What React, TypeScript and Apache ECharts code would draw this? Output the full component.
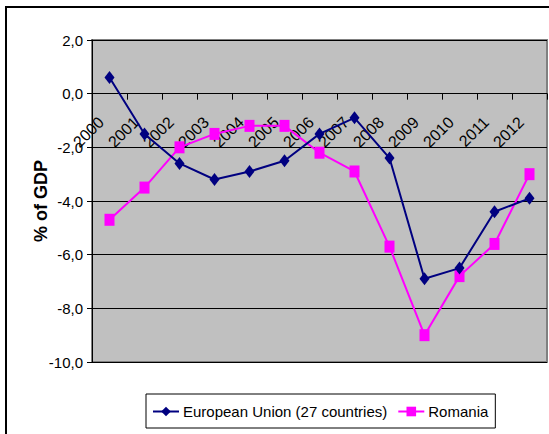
import React, { useEffect, useRef } from "react";
import * as echarts from "echarts";

const years = ["2000", "2001", "2002", "2003", "2004", "2005", "2006", "2007", "2008", "2009", "2010", "2011", "2012"];
const euValues = [0.6, -1.5, -2.6, -3.2, -2.9, -2.5, -1.5, -0.9, -2.4, -6.9, -6.5, -4.4, -3.9];
const roValues = [-4.7, -3.5, -2.0, -1.5, -1.2, -1.2, -2.2, -2.9, -5.7, -9.0, -6.8, -5.6, -3.0];
const seriesNames = ["European Union (27 countries)", "Romania"];
const yTicks = { min: -10, max: 2, interval: 2 };
const yTitle = "% of GDP";

const FONT = "'Liberation Sans', Arial, sans-serif";

export default function App() {
  const ref = useRef<HTMLDivElement>(null);
  useEffect(() => {
    if (!ref.current) return;
    const chart = echarts.init(ref.current, null, { renderer: "svg" });
    chart.setOption({
      animation: false,
      backgroundColor: "#ffffff",
      textStyle: { fontFamily: FONT },
      graphic: [
        {
          type: "rect",
          shape: { x: 6, y: 7, width: 600, height: 500 },
          style: { fill: "none", stroke: "#000", lineWidth: 2 },
          silent: true,
          z: 100,
        },
      ],
      grid: {
        left: 92,
        top: 40,
        right: 2,
        bottom: 72,
        show: true,
        backgroundColor: "#C0C0C0",
        borderColor: "#808080",
        borderWidth: 2,
      },
      legend: {
        left: 146,
        top: 394,
        orient: "horizontal",
        itemWidth: 26,
        itemHeight: 12,
        itemGap: 10,
        padding: [10, 7, 9, 6],
        borderColor: "#000",
        borderWidth: 1,
        backgroundColor: "#fff",
        textStyle: { fontSize: 15, fontFamily: FONT, color: "#000", padding: [0, 0, 0, -1] },
        data: seriesNames,
      },
      xAxis: {
        type: "category",
        data: years,
        boundaryGap: true,
        axisLine: { onZero: true, lineStyle: { color: "#000", width: 1 } },
        axisTick: { show: true, inside: false, length: 6, lineStyle: { color: "#000" }, alignWithLabel: false },
        axisLabel: {
          interval: 0,
          rotate: 45,
          margin: -251,
          padding: [0, 12, 0, 0],
          fontSize: 16,
          fontFamily: FONT,
          color: "#000",
          hideOverlap: false,
        },
        splitLine: { show: false },
      },
      yAxis: {
        type: "value",
        min: yTicks.min,
        max: yTicks.max,
        interval: yTicks.interval,
        name: yTitle,
        nameLocation: "middle",
        nameRotate: 90,
        nameGap: 42,
        nameMoveOverlap: false,
        nameTextStyle: { fontSize: 18, fontWeight: "bold", fontFamily: FONT, color: "#000" },
        axisLine: { show: true, lineStyle: { color: "#000", width: 1 } },
        axisTick: { show: true, length: 5, lineStyle: { color: "#000" } },
        axisLabel: {
          margin: 9,
          fontSize: 15,
          fontFamily: FONT,
          color: "#000",
          formatter: (v: number) => v.toFixed(1).replace(".", ","),
        },
        splitLine: { show: true, lineStyle: { color: "#000", width: 1 } },
      },
      series: [
        {
          name: seriesNames[0],
          type: "line",
          data: euValues,
          symbol: "diamond",
          symbolSize: [10, 13],
          lineStyle: { color: "#000080", width: 2 },
          itemStyle: { color: "#000080" },
          z: 3,
        },
        {
          name: seriesNames[1],
          type: "line",
          data: roValues,
          symbol: "rect",
          symbolSize: [10, 12],
          lineStyle: { color: "#FF00FF", width: 2 },
          itemStyle: { color: "#FF00FF" },
          z: 2,
        },
      ],
    });
    return () => chart.dispose();
  }, []);
  return (
    <div
      ref={ref}
      style={{ position: "absolute", left: 0, top: 0, width: 549, height: 434 }}
    />
  );
}
